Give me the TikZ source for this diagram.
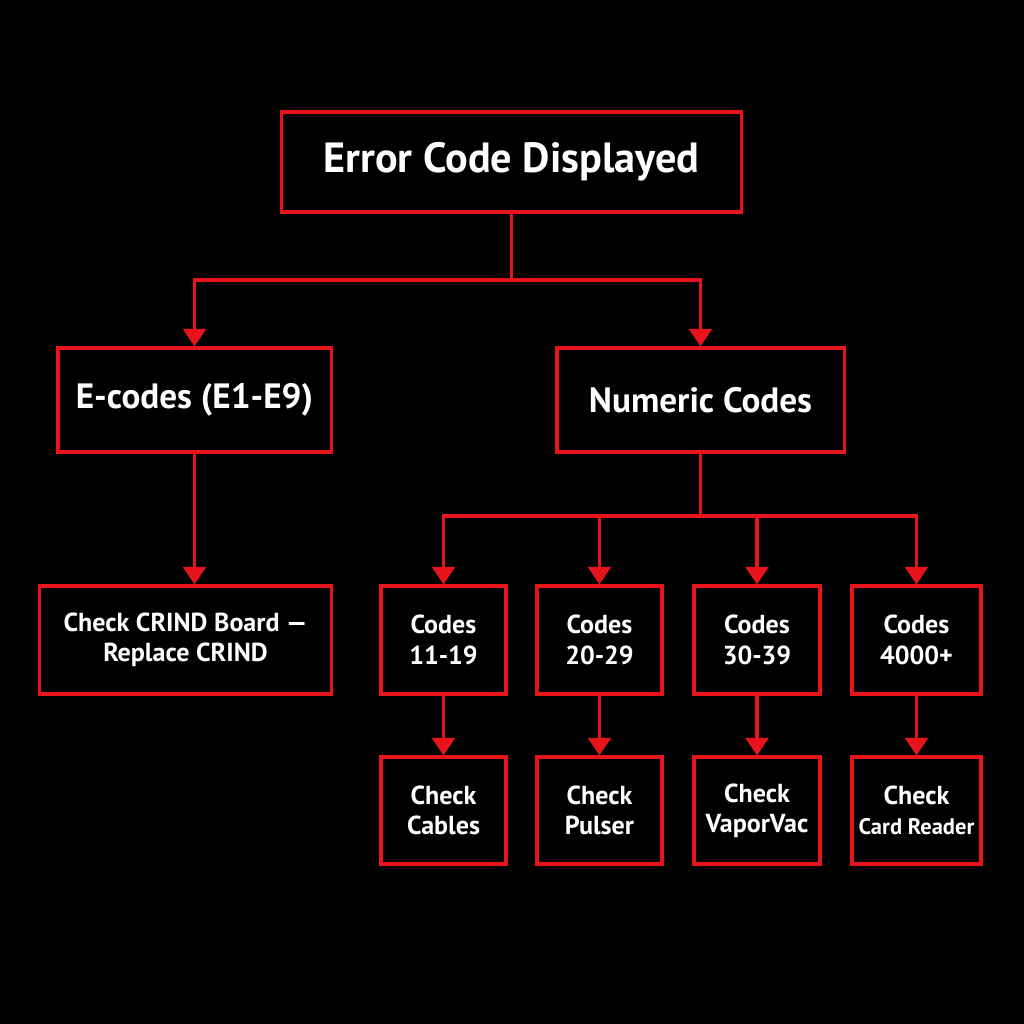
\documentclass[tikz,border=0pt]{standalone}
\usepackage{fontspec}
\setmainfont{PT Sans}
\usetikzlibrary{arrows.meta}
\definecolor{errred}{HTML}{E8141C}
\tikzset{
  box/.style={rectangle,draw=errred,line width=0.9pt,text=white,font=\bfseries,align=center,inner sep=0pt},
  link/.style={draw=errred,line width=0.9pt},
  arr/.style={link,-{Triangle[width=6.5pt,length=5pt]}}
}
\begin{document}
\begin{tikzpicture}[x=0.01cm,y=-0.01cm]
        \fill[black] (0,0) rectangle (1024,1024);

        \draw (511.5,162) node (top) [box,minimum width=4.59cm,minimum height=1cm,font=\bfseries\fontsize{12}{12}\selectfont] {Error Code Displayed};
        \draw (194.5,400) node (ecode) [box,minimum width=2.73cm,minimum height=1.04cm,font=\bfseries\fontsize{10}{11}\selectfont] {E-codes (E1-E9)};
        \draw (700.5,400) node (num) [box,minimum width=2.87cm,minimum height=1.04cm,font=\bfseries\fontsize{10}{11}\selectfont] {Numeric Codes};
        \draw (185.5,640) node (crind) [box,minimum width=2.91cm,minimum height=1.08cm,font=\bfseries\fontsize{7.4}{8.6}\selectfont] {Check CRIND Board ---\\Replace CRIND};

        \draw (443.5,640) node (ca) [box,minimum width=1.25cm,minimum height=1.08cm,font=\bfseries\fontsize{7.4}{8.6}\selectfont] {Codes\\11-19};
        \draw (599.5,640) node (cb) [box,minimum width=1.25cm,minimum height=1.08cm,font=\bfseries\fontsize{7.4}{8.6}\selectfont] {Codes\\20-29};
        \draw (757,640) node (cc) [box,minimum width=1.26cm,minimum height=1.08cm,font=\bfseries\fontsize{7.4}{8.6}\selectfont] {Codes\\30-39};
        \draw (916.5,640) node (cd) [box,minimum width=1.29cm,minimum height=1.08cm,font=\bfseries\fontsize{7.4}{8.6}\selectfont] {Codes\\4000+};

        \draw (443.5,810.5) node (ka) [box,minimum width=1.25cm,minimum height=1.07cm,font=\bfseries\fontsize{7.4}{8.6}\selectfont] {Check\\Cables};
        \draw (599.5,810.5) node (kb) [box,minimum width=1.25cm,minimum height=1.07cm,font=\bfseries\fontsize{7.4}{8.6}\selectfont] {Check\\Pulser};
        \draw (757,810.5) node (kc) [box,minimum width=1.26cm,minimum height=1.07cm,font=\bfseries\fontsize{7.4}{8.6}\selectfont] {Check\\VaporVac};
        \draw (916.5,810.5) node (kd) [box,minimum width=1.29cm,minimum height=1.07cm,font=\bfseries\fontsize{7.4}{8.6}\selectfont] {Check\\{\fontsize{6.4}{8.6}\selectfont Card Reader}};

        \coordinate (split) at (511.5,280);
        \coordinate (nsplit) at (700.5,516);

        \draw [link] (top.south) -- (split);
        \draw [arr] (split) -| (ecode.north);
        \draw [arr] (split) -| (num.north);
        \draw [arr] (ecode.south) -- (crind.north -| ecode.south);

        \draw [link] (num.south) -- (nsplit);
        \draw [arr] (nsplit) -| (ca.north);
        \draw [arr] (nsplit) -| (cb.north);
        \draw [arr] (nsplit) -| (cc.north);
        \draw [arr] (nsplit) -| (cd.north);

        \draw [arr] (ca) -- (ka);
        \draw [arr] (cb) -- (kb);
        \draw [arr] (cc) -- (kc);
        \draw [arr] (cd) -- (kd);
\end{tikzpicture}
\end{document}
